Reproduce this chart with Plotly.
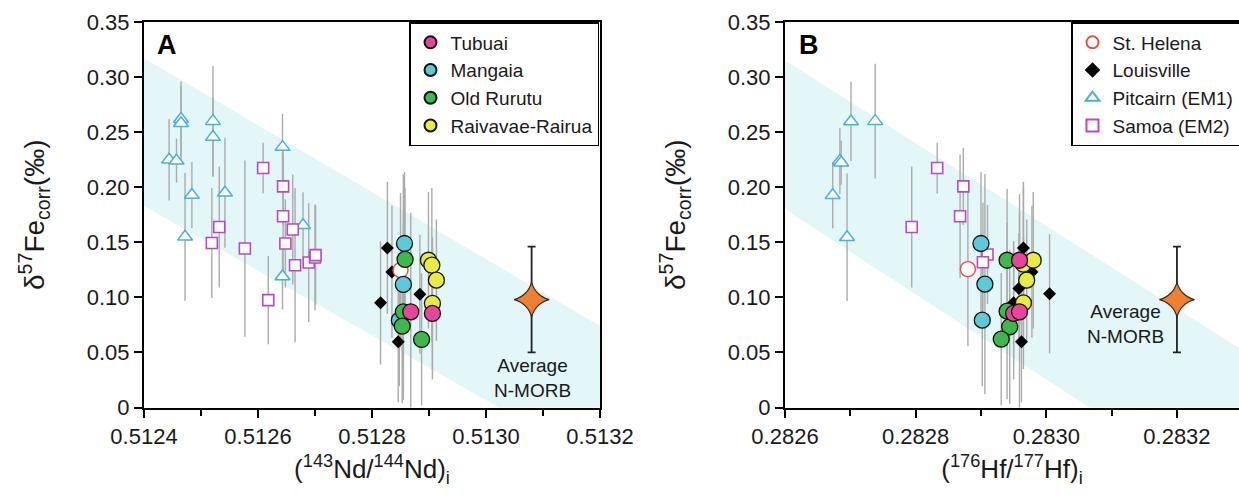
import plotly.graph_objects as go

# ---------------- Data ----------------
# Panel A : (143Nd/144Nd)i
pit_a_x = [0.512465, 0.512465, 0.512521, 0.512521, 0.512643, 0.512444, 0.512457, 0.512484, 0.512542, 0.512679, 0.512472, 0.512643]
pit_a_y = [0.262, 0.258, 0.260, 0.2455, 0.2364, 0.225, 0.224, 0.193, 0.195, 0.1655, 0.155, 0.119]
pit_a_e = [0.034, 0.034, 0.05, 0.036, 0.03, 0.037, 0.02, 0.03, 0.05, 0.03, 0.058, 0.03]

sam_a_x = [0.512609, 0.512644, 0.512644, 0.512661, 0.512532, 0.512519, 0.512648, 0.512577, 0.512665, 0.512689, 0.5127, 0.512701, 0.512618]
sam_a_y = [0.2174, 0.2008, 0.1736, 0.1616, 0.1639, 0.1494, 0.1489, 0.1443, 0.1292, 0.1316, 0.1362, 0.1383, 0.0975]
sam_a_e = [0.023, 0.035, 0.056, 0.05, 0.055, 0.05, 0.04, 0.08, 0.07, 0.054, 0.048, 0.045, 0.04]

lou_a_x = [0.512827, 0.512835, 0.512815, 0.512884, 0.512846]
lou_a_y = [0.1449, 0.1231, 0.095, 0.1029, 0.0597]
lou_a_e = [0.06, 0.06, 0.056, 0.054, 0.055]

sth_a_x = [0.51285]
sth_a_y = [0.1247]
sth_a_e = [0.07]

man_a_x = [0.512857, 0.512855, 0.512848]
man_a_y = [0.1489, 0.1117, 0.0793]
man_a_e = [0.065, 0.1, 0.06]

oru_a_x = [0.512858, 0.512855, 0.512853, 0.512887]
oru_a_y = [0.1344, 0.0869, 0.0739, 0.0618]
oru_a_e = [0.065, 0.08, 0.07, 0.06]

tub_a_x = [0.512868, 0.512906]
tub_a_y = [0.0869, 0.0854]
tub_a_e = [0.09, 0.06]

rai_a_x = [0.512899, 0.512905, 0.512913, 0.512906]
rai_a_y = [0.1337, 0.1292, 0.1156, 0.0945]
rai_a_e = [0.062, 0.07, 0.055, 0.06]

morb_a_x = [0.51308]

# Panel B : (176Hf/177Hf)i
pit_b_x = [0.282701, 0.282738, 0.282684, 0.282686, 0.282673, 0.282695]
pit_b_y = [0.2597, 0.26, 0.2238, 0.2223, 0.1927, 0.1546]
pit_b_e = [0.036, 0.052, 0.03, 0.02, 0.03, 0.058]

sam_b_x = [0.282833, 0.282873, 0.282868, 0.282794, 0.28291, 0.282903]
sam_b_y = [0.2174, 0.2008, 0.1736, 0.1639, 0.1389, 0.1319]
sam_b_e = [0.023, 0.035, 0.056, 0.055, 0.045, 0.054]

lou_b_x = [0.282965, 0.282978, 0.282958, 0.28295, 0.283005, 0.282962]
lou_b_y = [0.1449, 0.1231, 0.1081, 0.095, 0.1032, 0.0597]
lou_b_e = [0.06, 0.06, 0.05, 0.056, 0.054, 0.055]

sth_b_x = [0.28288]
sth_b_y = [0.1256]
sth_b_e = [0.07]

man_b_x = [0.2829, 0.282906, 0.282902]
man_b_y = [0.1489, 0.112, 0.0793]
man_b_e = [0.065, 0.1, 0.06]

oru_b_x = [0.28294, 0.28294, 0.282944, 0.282931]
oru_b_y = [0.1337, 0.0875, 0.0733, 0.0621]
oru_b_e = [0.065, 0.08, 0.07, 0.06]

tub_b_x = [0.282959, 0.28295, 0.282959]
tub_b_y = [0.1337, 0.0854, 0.0869]
tub_b_e = [0.06, 0.06, 0.09]

rai_b_x = [0.282965, 0.28298, 0.28297, 0.282965]
rai_b_y = [0.1301, 0.1337, 0.1156, 0.095]
rai_b_e = [0.07, 0.062, 0.055, 0.06]

morb_b_x = [0.2832]
morb_y = [0.098]
morb_e = [0.048]

# Trend bands (corner points of the shaded field)
band_a_x = [0.5124, 0.5132, 0.5132, 0.5124]
band_a_y = [0.317, 0.074, -0.052, 0.183]
band_b_x = [0.2826, 0.2834, 0.2834, 0.2826]
band_b_y = [0.315, 0.0146, -0.129, 0.180]

y_ticks = [0, 0.05, 0.10, 0.15, 0.20, 0.25, 0.30, 0.35]
y_tick_text = ["0", "0.05", "0.10", "0.15", "0.20", "0.25", "0.30", "0.35"]
x_ticks_a = [0.5124, 0.5126, 0.5128, 0.5130, 0.5132]
x_ticks_b = [0.2826, 0.2828, 0.2830, 0.2832]

# ---------------- Styles ----------------
FONT = "Liberation Sans, Arial, sans-serif"
C_TUB = "#E8449B"
C_MAN = "#5BCBD9"
C_ORU = "#3DB94B"
C_RAI = "#E8EC3E"
C_STH = "#EE4A40"
C_PIT = "#45B3D3"
C_SAM = "#BA47C8"
C_MORB = "#F07F32"
C_ERR = "#ABABAB"
C_BAND = "#E3F6F8"

fig = go.Figure()

panels = [
    dict(ax="x", ay="y", leg="legend", band=(band_a_x, band_a_y),
         pit=(pit_a_x, pit_a_y, pit_a_e), sam=(sam_a_x, sam_a_y, sam_a_e),
         lou=(lou_a_x, lou_a_y, lou_a_e), sth=(sth_a_x, sth_a_y, sth_a_e),
         man=(man_a_x, man_a_y, man_a_e), oru=(oru_a_x, oru_a_y, oru_a_e),
         tub=(tub_a_x, tub_a_y, tub_a_e), rai=(rai_a_x, rai_a_y, rai_a_e),
         morb=morb_a_x, islands_legend=True),
    dict(ax="x2", ay="y2", leg="legend2", band=(band_b_x, band_b_y),
         pit=(pit_b_x, pit_b_y, pit_b_e), sam=(sam_b_x, sam_b_y, sam_b_e),
         lou=(lou_b_x, lou_b_y, lou_b_e), sth=(sth_b_x, sth_b_y, sth_b_e),
         man=(man_b_x, man_b_y, man_b_e), oru=(oru_b_x, oru_b_y, oru_b_e),
         tub=(tub_b_x, tub_b_y, tub_b_e), rai=(rai_b_x, rai_b_y, rai_b_e),
         morb=morb_b_x, islands_legend=False),
]

for p in panels:
    ax, ay = p["ax"], p["ay"]
    fig.add_trace(go.Scatter(x=p["band"][0], y=p["band"][1], mode="lines", fill="toself",
                             fillcolor=C_BAND, line=dict(width=0), hoverinfo="skip",
                             showlegend=False, xaxis=ax, yaxis=ay))
    for key in ["pit", "sam", "lou", "sth", "man", "oru", "tub", "rai"]:
        xs, ys, es = p[key]
        fig.add_trace(go.Scatter(x=xs, y=ys, mode="markers",
                                 marker=dict(size=1, color="rgba(0,0,0,0)"),
                                 error_y=dict(type="data", array=es, visible=True,
                                              color=C_ERR, thickness=1.4, width=0),
                                 hoverinfo="skip", showlegend=False, xaxis=ax, yaxis=ay))
    show_b = not p["islands_legend"]
    show_a = p["islands_legend"]
    fig.add_trace(go.Scatter(x=p["pit"][0], y=p["pit"][1], mode="markers", name="Pitcairn (EM1)",
                             marker=dict(symbol="triangle-up", size=13, color="white",
                                         line=dict(color=C_PIT, width=1.5)),
                             legend=p["leg"], legendrank=3, showlegend=show_b, xaxis=ax, yaxis=ay))
    fig.add_trace(go.Scatter(x=p["sam"][0], y=p["sam"][1], mode="markers", name="Samoa (EM2)",
                             marker=dict(symbol="square", size=11, color="white",
                                         line=dict(color=C_SAM, width=1.6)),
                             legend=p["leg"], legendrank=4, showlegend=show_b, xaxis=ax, yaxis=ay))
    fig.add_trace(go.Scatter(x=p["lou"][0], y=p["lou"][1], mode="markers", name="Louisville",
                             marker=dict(symbol="diamond", size=10, color="black",
                                         line=dict(color="black", width=0)),
                             legend=p["leg"], legendrank=2, showlegend=show_b, xaxis=ax, yaxis=ay))
    fig.add_trace(go.Scatter(x=p["sth"][0], y=p["sth"][1], mode="markers", name="St. Helena",
                             marker=dict(symbol="circle", size=15, color="white",
                                         line=dict(color=C_STH, width=1.4)),
                             legend=p["leg"], legendrank=1, showlegend=show_b, xaxis=ax, yaxis=ay))
    for key, name, col, rank in [("man", "Mangaia", C_MAN, 2), ("oru", "Old Rurutu", C_ORU, 3),
                                 ("rai", "Raivavae-Rairua", C_RAI, 4), ("tub", "Tubuai", C_TUB, 1)]:
        fig.add_trace(go.Scatter(x=p[key][0], y=p[key][1], mode="markers", name=name,
                                 marker=dict(symbol="circle", size=16, color=col,
                                             line=dict(color="#111111", width=1.3)),
                                 legend=p["leg"], legendrank=rank, showlegend=show_a,
                                 xaxis=ax, yaxis=ay))
    fig.add_trace(go.Scatter(x=p["morb"], y=morb_y, mode="markers", name="Average N-MORB",
                             marker=dict(symbol="star-diamond", size=25, color=C_MORB,
                                         line=dict(color="#3a2a20", width=1.2)),
                             error_y=dict(type="data", array=morb_e, visible=True,
                                          color="#222222", thickness=1.8, width=4),
                             showlegend=False, xaxis=ax, yaxis=ay))

W, H = 1239, 502
def px_x(v):
    return v / W
def px_y(v):
    return 1 - v / H

axis_common = dict(showline=True, linecolor="black", linewidth=2, mirror=True,
                   ticks="outside", ticklen=8, tickwidth=1.8, tickcolor="black",
                   showgrid=False, zeroline=False, automargin=False,
                   tickfont=dict(family=FONT, size=22, color="#1a1a1a"))

fig.update_layout(
    width=W, height=H,
    margin=dict(l=0, r=0, t=0, b=0, autoexpand=False),
    paper_bgcolor="white", plot_bgcolor="white",
    font=dict(family=FONT, color="#1a1a1a"),
    xaxis=dict(domain=[px_x(144), px_x(600)], range=[0.5124, 0.5132], anchor="y",
               tickvals=x_ticks_a, tickformat=".4f",
               minor=dict(ticks="outside", ticklen=6, tickwidth=1.6, tickcolor="black", dtick=0.0001),
               title=dict(text="(<sup>143</sup>Nd/<sup>144</sup>Nd)<sub>i</sub>",
                          font=dict(family=FONT, size=26), standoff=12),
               **axis_common),
    yaxis=dict(domain=[px_y(407.5), px_y(22)], range=[0, 0.35], anchor="x",
               tickvals=y_ticks, ticktext=y_tick_text,
               title=dict(text="δ<sup>57</sup>Fe<sub>corr</sub>(‰)",
                          font=dict(family=FONT, size=28), standoff=34),
               **axis_common),
    xaxis2=dict(domain=[px_x(785), 1.0], range=[0.2826, 0.283295], anchor="y2",
                tickvals=x_ticks_b, tickformat=".4f",
                minor=dict(ticks="outside", ticklen=6, tickwidth=1.6, tickcolor="black", dtick=0.0001),
                title=dict(text="(<sup>176</sup>Hf/<sup>177</sup>Hf)<sub>i</sub>",
                           font=dict(family=FONT, size=26), standoff=12),
                **axis_common),
    yaxis2=dict(domain=[px_y(407.5), px_y(22)], range=[0, 0.35], anchor="x2",
                tickvals=y_ticks, ticktext=y_tick_text,
                title=dict(text="δ<sup>57</sup>Fe<sub>corr</sub>(‰)",
                           font=dict(family=FONT, size=28), standoff=34),
                **axis_common),
    legend=dict(x=px_x(409), y=px_y(22), xanchor="left", yanchor="top",
                bgcolor="white", bordercolor="black", borderwidth=1.5,
                font=dict(family=FONT, size=19, color="#1a1a1a"),
                itemsizing="constant", tracegroupgap=0),
    legend2=dict(x=px_x(1071), y=px_y(22), xanchor="left", yanchor="top",
                 bgcolor="white", bordercolor="black", borderwidth=1.5,
                 font=dict(family=FONT, size=19, color="#1a1a1a"),
                 itemsizing="constant", tracegroupgap=0),
    annotations=[
        dict(text="<b>A</b>", xref="paper", yref="paper", x=px_x(155), y=px_y(28),
             xanchor="left", yanchor="top", showarrow=False,
             font=dict(family=FONT, size=27, color="black")),
        dict(text="<b>B</b>", xref="paper", yref="paper", x=px_x(797), y=px_y(28),
             xanchor="left", yanchor="top", showarrow=False,
             font=dict(family=FONT, size=27, color="black")),
        dict(text="Average<br>N-MORB", xref="x", yref="y", x=0.513082, y=0.0267,
             showarrow=False, font=dict(family=FONT, size=19, color="#1a1a1a")),
        dict(text="Average<br>N-MORB", xref="x2", yref="y2", x=0.283122, y=0.0757,
             showarrow=False, font=dict(family=FONT, size=19, color="#1a1a1a")),
    ],
)

fig.write_html("out.html", config={"displayModeBar": False},
               post_script="document.body.style.margin='0';document.body.style.padding='0';")
